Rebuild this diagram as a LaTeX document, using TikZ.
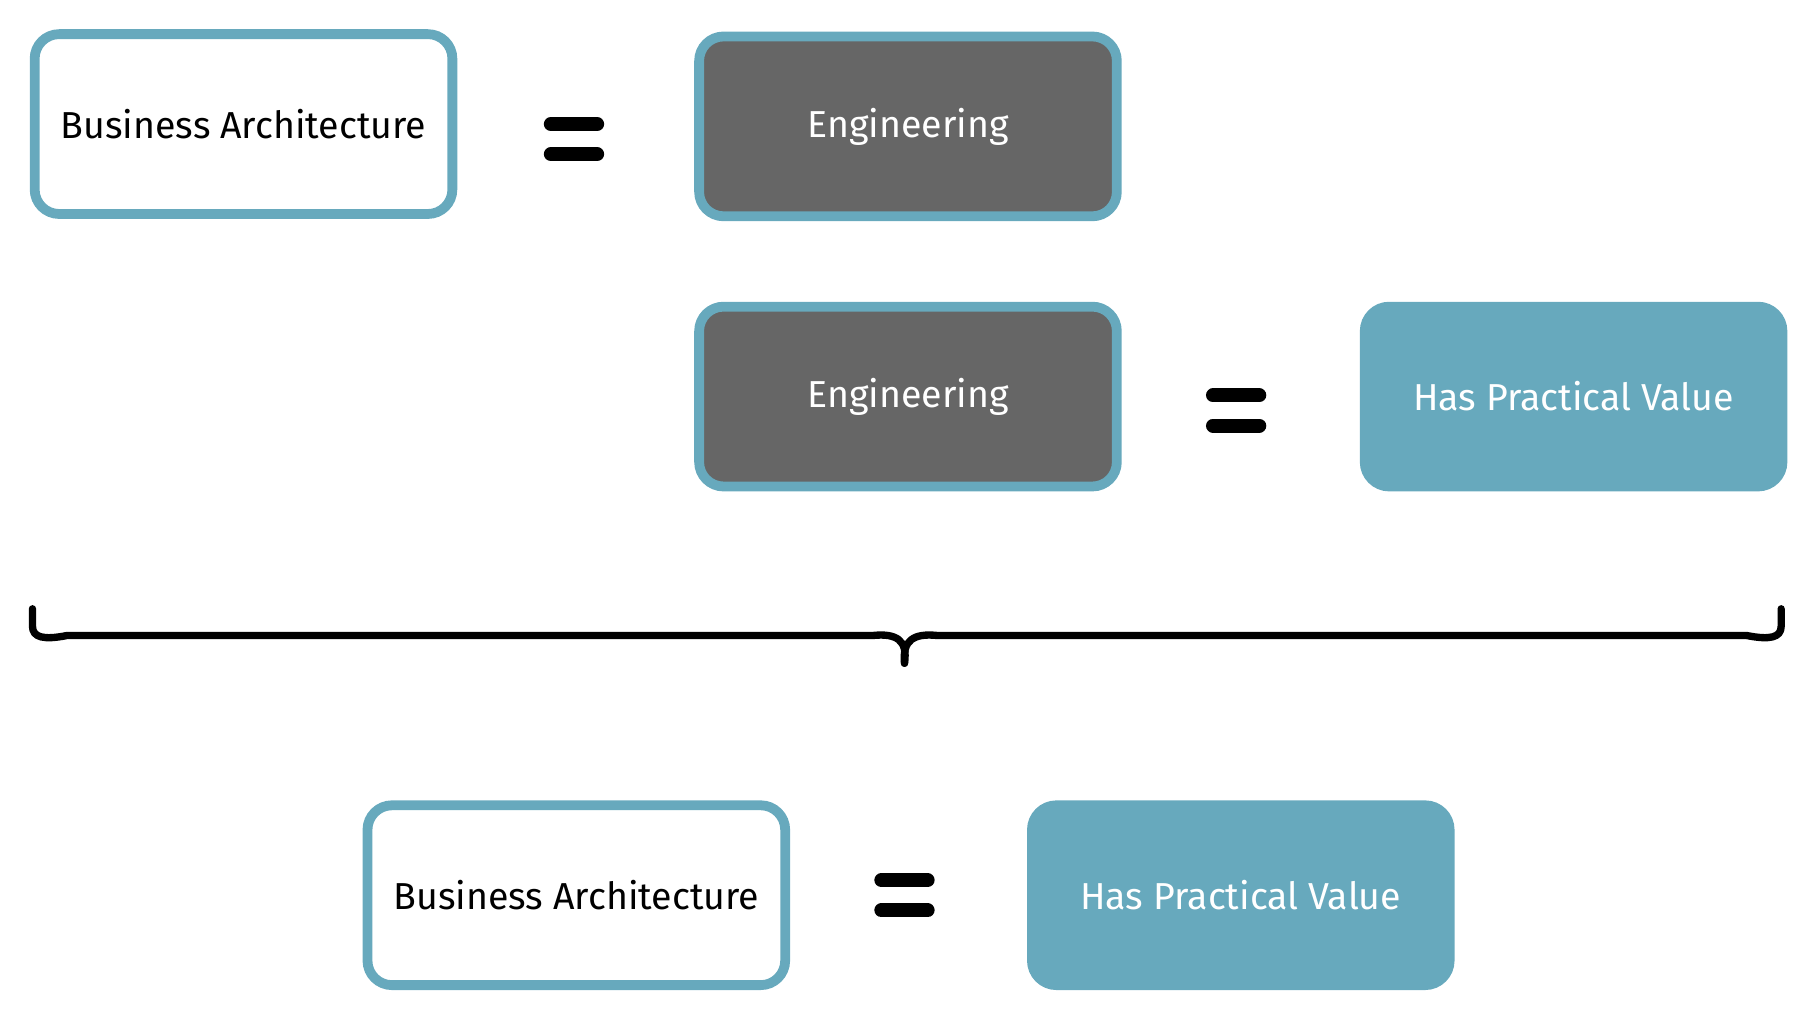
\documentclass[tikz,border=0pt]{standalone}
\usepackage{fontspec}
\setmainfont{Fira Sans}
\definecolor{teal}{HTML}{67A9BD}
\definecolor{dg}{HTML}{666666}
\begin{document}
\begin{tikzpicture}[x=0.01cm,y=-0.01cm,
 box/.style={draw=teal,line width=2.4pt,rounded corners=6pt,inner sep=0pt,minimum width=3.6cm,minimum height=1.55cm,font=\fontsize{9.2}{11}\selectfont},
 wbox/.style={box,fill=white,text=black},
 gbox/.style={box,fill=dg,text=white},
 tbox/.style={box,fill=teal,text=white},
 eqs/.style={line width=0.12cm,line cap=round}]
\useasboundingbox (0,0) rectangle (1560,874);
\node[wbox] (ba1) at (210,107) {Business Architecture};
\node[gbox] (e1) at (783,109) {Engineering};
\node[gbox] (e2) at (783,342) {Engineering};
\node[tbox] (h1) at (1357,342) {Has Practical Value};
\node[wbox] (ba2) at (497,772) {Business Architecture};
\node[tbox] (h2) at (1070,772) {Has Practical Value};
\coordinate (q1) at (497,120);
\coordinate (q2) at (1068,354);
\coordinate (q3) at (782,772);
\foreach \q in {q1,q2,q3}{
 \draw[eqs] ([xshift=-0.22cm,yshift=0.13cm]\q) -- ++(40,0);
 \draw[eqs] ([xshift=-0.22cm,yshift=-0.13cm]\q) -- ++(40,0);}
\coordinate (bl) at (28,525);
\coordinate (br) at (1536,525);
\coordinate (bt) at (780,572);
\draw[line width=1.8pt,line cap=round,line join=round] (bl) -- (28,540) .. controls (28,550) and (38,552) .. (58,548) -- (753,548) .. controls (773,546) and (783,552) .. (bt);
\draw[line width=1.8pt,line cap=round,line join=round] (br) -- (1536,540) .. controls (1536,550) and (1526,552) .. (1506,548) -- (808,548) .. controls (788,546) and (778,552) .. (bt);
\end{tikzpicture}
\end{document}
